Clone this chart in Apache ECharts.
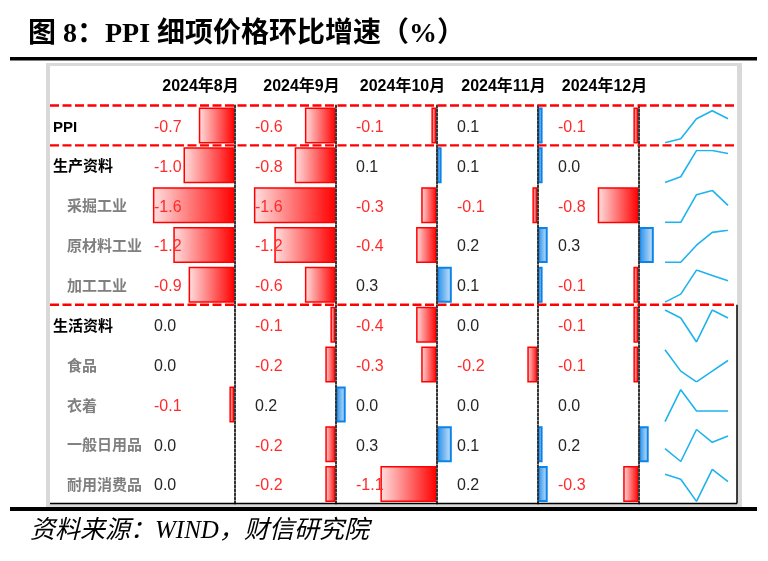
<!DOCTYPE html>
<html>
<head>
<meta charset="utf-8">
<script src="https://cdn.jsdelivr.net/npm/echarts@6/dist/echarts.min.js"></script>
<style>
  html, body { margin: 0; padding: 0; background: #fff; }
  #chart { width: 768px; height: 561px; }
</style>
</head>
<body>
<div id="chart"></div>
<script>
var months = ['2024年8月', '2024年9月', '2024年10月', '2024年11月', '2024年12月'];
var rowNames = ['PPI', '生产资料', '采掘工业', '原材料工业', '加工工业', '生活资料', '食品', '衣着', '一般日用品', '耐用消费品'];
var subRow = [false, false, true, true, true, false, true, true, true, true];
var aug = [-0.7, -1.0, -1.6, -1.2, -0.9, 0.0, 0.0, -0.1, 0.0, 0.0];
var sep = [-0.6, -0.8, -1.6, -1.2, -0.6, -0.1, -0.2, 0.2, -0.2, -0.2];
var oct = [-0.1, 0.1, -0.3, -0.4, 0.3, -0.4, -0.3, 0.0, 0.3, -1.1];
var nov = [0.1, 0.1, -0.1, 0.2, 0.1, 0.0, -0.2, 0.0, 0.1, 0.2];
var dec = [-0.1, 0.0, -0.8, 0.3, -0.1, -0.1, -0.1, 0.0, 0.2, -0.3];
var columns = [aug, sep, oct, nov, dec];

// layout
var rowTop = 105.5, rowH = 39.85, nRows = rowNames.length;
var axisX = [234.5, 335.5, 436.5, 537.5, 638.5];
var unitPx = 51, xMin = -2, xMax = 0.5;
var textOffset = 80.5; // value text starts this far left of the zero line
var sans = "'Liberation Sans', 'Noto Sans CJK SC', sans-serif";
var serif = "'Liberation Serif', 'Noto Sans CJK SC', serif";

var chart = echarts.init(document.getElementById('chart'));

function barStyle(v) {
  if (v < 0) {
    return {
      color: new echarts.graphic.LinearGradient(0, 0, 1, 0, [
        { offset: 0, color: '#ffe0e0' }, { offset: 1, color: '#ff0000' }]),
      borderColor: '#ff0000', borderWidth: 1.5
    };
  }
  if (v > 0) {
    return {
      color: new echarts.graphic.LinearGradient(0, 0, 1, 0, [
        { offset: 0, color: '#1a88e8' }, { offset: 1, color: '#d2e8fb' }]),
      borderColor: '#0a84ea', borderWidth: 2
    };
  }
  return { color: 'transparent', borderWidth: 0 };
}

var grids = [], xAxes = [], yAxes = [], series = [];

// month columns with data bars
columns.forEach(function (col, k) {
  grids.push({ left: axisX[k] + xMin * unitPx, width: (xMax - xMin) * unitPx, top: rowTop, height: rowH * nRows });
  xAxes.push({ type: 'value', gridIndex: k, min: xMin, max: xMax, show: false });
  // the zero line
  var lineAxis = yAxes.length;
  yAxes.push({
    type: 'category', gridIndex: k, data: rowNames, inverse: true, position: 'left', z: 10,
    axisLine: { show: true, onZero: true, lineStyle: { color: '#333', width: 2, type: 'dotted' } },
    axisTick: { show: false }, splitLine: { show: false }, axisLabel: { show: false }
  });
  // the value text
  yAxes.push({
    type: 'category', gridIndex: k, data: rowNames, inverse: true, position: 'left', z: 10,
    axisLine: { show: false, onZero: false }, axisTick: { show: false }, splitLine: { show: false },
    axisLabel: {
      interval: 0, align: 'left', margin: -(-xMin * unitPx - textOffset), padding: [4, 0, 0, 0],
      formatter: function (v, i) {
        var val = col[i];
        return (val < 0 ? '{neg|' : '{pos|') + val.toFixed(1) + '}';
      },
      rich: {
        neg: { color: '#ff2a2a', fontSize: 16, fontFamily: sans },
        pos: { color: '#262626', fontSize: 16, fontFamily: sans }
      }
    }
  });
  series.push({
    type: 'bar', xAxisIndex: k, yAxisIndex: lineAxis, barWidth: 36,
    data: col.map(function (v) { return { value: v, itemStyle: barStyle(v) }; })
  });
});

// row names
var lg = grids.length;
grids.push({ left: 53, width: 10, top: rowTop, height: rowH * nRows });
xAxes.push({ type: 'value', gridIndex: lg, show: false });
yAxes.push({
  type: 'category', gridIndex: lg, data: rowNames, inverse: true,
  axisLine: { show: false, onZero: false }, axisTick: { show: false },
  axisLabel: {
    interval: 0, align: 'left', margin: 0, padding: [4, 0, 0, 0],
    formatter: function (v, i) { return (subRow[i] ? '{sub|' : '{main|') + v + '}'; },
    rich: {
      main: { color: '#000', fontWeight: 'bold', fontSize: 15, fontFamily: sans },
      sub: { color: '#7f7f7f', fontWeight: 'bold', fontSize: 15, fontFamily: sans, padding: [0, 0, 0, 14] }
    }
  }
});

// sparklines
rowNames.forEach(function (name, i) {
  var g = grids.length;
  var ya = yAxes.length;
  grids.push({ left: 665, width: 63, top: rowTop + i * rowH + 5.2, height: 32 });
  xAxes.push({ type: 'category', gridIndex: g, data: months, boundaryGap: false, show: false });
  yAxes.push({ type: 'value', gridIndex: g, min: 'dataMin', max: 'dataMax', scale: true, show: false });
  series.push({
    type: 'line', xAxisIndex: g, yAxisIndex: ya, symbol: 'none', silent: true,
    lineStyle: { color: '#1fb3ee', width: 1.6 },
    data: columns.map(function (col) { return col[i]; })
  });
});

// frame, headers, separators
var graphics = [
  { type: 'rect', shape: { x: 10, y: 57, width: 747, height: 3.5 }, style: { fill: '#000' } },
  { type: 'rect', shape: { x: 46, y: 63, width: 696, height: 444 }, style: { fill: '#d9d9d9' } },
  { type: 'rect', shape: { x: 50, y: 66, width: 687, height: 437 }, style: { fill: '#fff' } },
  { type: 'line', z: 20, shape: { x1: 50, y1: 503.5, x2: 737, y2: 503.5 }, style: { stroke: '#000', lineWidth: 1.5 } },
  { type: 'line', z: 20, shape: { x1: 737, y1: rowTop + 5 * rowH, x2: 737, y2: 503.5 }, style: { stroke: '#000', lineWidth: 1.5 } },
  { type: 'rect', shape: { x: 10, y: 507, width: 747, height: 4 }, style: { fill: '#000' } },
  { type: 'text', x: 28, y: 35, style: { text: '图 8：PPI 细项价格环比增速（%）', fill: '#000', font: 'bold 28px ' + serif, textVerticalAlign: 'middle', verticalAlign: 'middle' } },
  { type: 'text', x: 30, y: 531, style: { text: '资料来源：WIND，财信研究院', fill: '#000', font: 'italic 25px ' + serif, textVerticalAlign: 'middle', verticalAlign: 'middle' } }
];
months.forEach(function (m, k) {
  graphics.push({ type: 'text', x: axisX[k] - 34, y: 87, style: { text: m, fill: '#000', font: 'bold 16px ' + sans, textAlign: 'center', align: 'center', textVerticalAlign: 'middle', verticalAlign: 'middle' } });
});
[0, 1, 5].forEach(function (r) {
  var y = rowTop + r * rowH;
  graphics.push({ type: 'line', z: 20, shape: { x1: 50, y1: y, x2: 737, y2: y }, style: { stroke: '#ff0000', lineWidth: 2.3, lineDash: [9, 3.5] } });
});

chart.setOption({
  animation: false,
  backgroundColor: '#fff',
  graphic: { elements: graphics },
  grid: grids,
  xAxis: xAxes,
  yAxis: yAxes,
  series: series
});
</script>
</body>
</html>
